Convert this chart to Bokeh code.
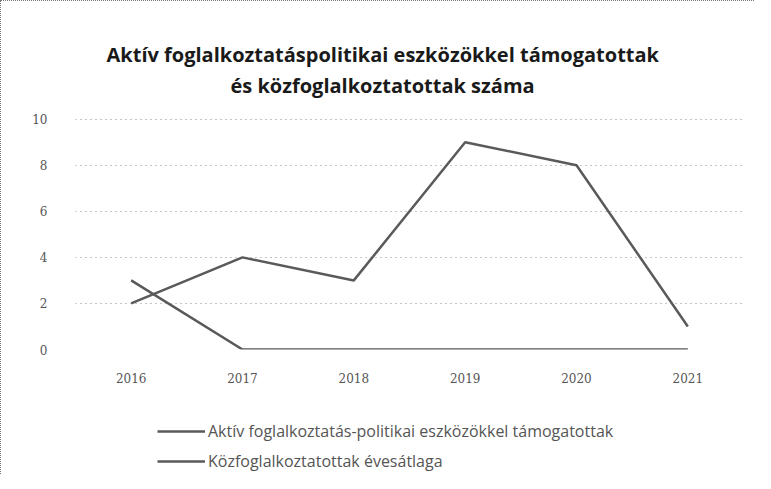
from bokeh.plotting import figure
from bokeh.layouts import column
from bokeh.models import Title, Legend, LegendItem, FactorRange, Range1d, FixedTicker
from bokeh.embed import file_html
from bokeh.resources import INLINE

years = ["2016", "2017", "2018", "2019", "2020", "2021"]
aktiv = [2, 4, 3, 9, 8, 1]
kozfogl = [3, 0, 0, 0, 0, 0]
y_ticks = [0, 2, 4, 6, 8, 10]
title_lines = ["Aktív foglalkoztatáspolitikai eszközökkel támogatottak",
               "és közfoglalkoztatottak száma"]
series_names = ["Aktív foglalkoztatás-politikai eszközökkel támogatottak",
                "Közfoglalkoztatottak évesátlaga"]
LINE = "#5a5a5a"

p = figure(frame_width=668, frame_height=231, x_range=FactorRange(*years), y_range=Range1d(0, 10.03),
           output_backend="svg", toolbar_location=None,
           min_border_left=74, min_border_right=11, min_border_top=117, min_border_bottom=45)
p.outline_line_color = None
p.background_fill_color = "white"
p.border_fill_color = "white"

p.xaxis.axis_line_color = None
p.yaxis.axis_line_color = None
p.xaxis.major_tick_line_color = None
p.yaxis.major_tick_line_color = None
p.xaxis.minor_tick_line_color = None
p.yaxis.minor_tick_line_color = None
p.yaxis.ticker = FixedTicker(ticks=y_ticks)
for ax in (p.xaxis, p.yaxis):
    ax.major_label_text_font = "DejaVu Serif"
    ax.major_label_text_font_size = "12px"
    ax.major_label_text_color = "#555555"
p.xaxis.major_label_standoff = 17
p.yaxis.major_label_standoff = 22
p.xgrid.grid_line_color = None
p.ygrid.grid_line_color = "#8c8c8c"
p.ygrid.grid_line_dash = "1 4"
p.ygrid.grid_line_width = 1

p.line(years, aktiv, line_color=LINE, line_width=2.5)
p.line(years, kozfogl, line_color=LINE, line_width=2.5)

# spacer nearest the frame, then the two title lines
p.add_layout(Title(text=" ", text_font_size="14px", standoff=0), "above")
for t, off, so in zip(reversed(title_lines), [155, 31], [3, 1]):
    p.add_layout(Title(text=t, align="left", offset=off, standoff=so,
                       text_font="Open Sans", text_font_style="bold",
                       text_font_size="20px", text_color="#1a1a1a"), "above")

# legend strip below the chart (proxy lines lie outside its visible range)
lg = figure(width=753, height=80, x_range=Range1d(0, 1), y_range=Range1d(0, 1),
            output_backend="svg", toolbar_location=None, min_border=0)
lg.axis.visible = False
lg.grid.grid_line_color = None
lg.outline_line_color = None
h1 = lg.line(x=[-2, -3], y=[-2, -3], line_color=LINE, line_width=2.5)
h2 = lg.line(x=[-2, -3], y=[-2, -3], line_color=LINE, line_width=2.5)
legend = Legend(items=[LegendItem(label=series_names[0], renderers=[h1]),
                       LegendItem(label=series_names[1], renderers=[h2])],
                location=(82, 2), orientation="vertical",
                label_text_font="Open Sans", label_text_font_size="16px",
                label_text_color="#555555", glyph_width=48, glyph_height=22,
                label_standoff=3, spacing=8, padding=0, margin=0,
                border_line_color=None, background_fill_alpha=0)
lg.add_layout(legend, "center")

layout = column(p, lg, spacing=0)
layout.styles = {"border-left": "1px dotted #777", "border-top": "1px dotted #777"}

open("out.html", "w").write(file_html(layout, INLINE))
